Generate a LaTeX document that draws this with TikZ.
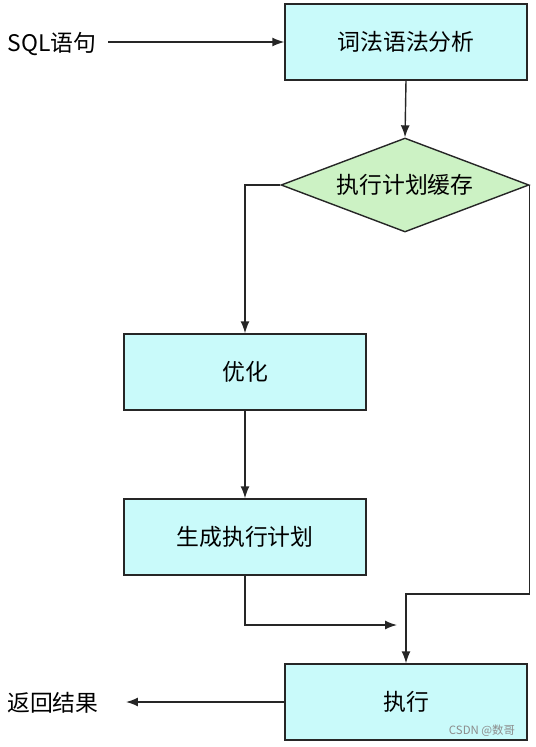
\documentclass[tikz,border=0pt]{standalone}
\usepackage{fontspec}
\setmainfont{Noto Sans CJK SC}
\usetikzlibrary{arrows.meta, positioning, shapes.geometric}
\definecolor{boxcyan}{HTML}{C9FAFA}
\definecolor{cachegreen}{HTML}{CCF2C4}

\begin{document}
\begin{tikzpicture}[
    x=0.02cm, y=-0.02cm,
    stage/.style={rectangle, draw=black!85, line width=0.8pt, fill=boxcyan,
                  minimum width=4.84cm, minimum height=1.52cm,
                  align=center, font=\fontsize{13}{15}\selectfont},
    check/.style={diamond, draw=black!85, line width=0.8pt, fill=cachegreen,
                  shape aspect=2.65, minimum width=4.96cm, minimum height=1.88cm,
                  inner sep=0pt, font=\fontsize{13}{15}\selectfont},
    plain/.style={font=\fontsize{13}{15}\selectfont},
    arrow/.style={-{Latex[length=2.4mm, width=1.8mm]}, line width=0.8pt, black!85}
  ]
    \useasboundingbox (0,0) rectangle (536,747);

    % Boxes
    \node[stage] (lex) at (406,42) {词法语法分析};
    \node[check] (cache) at (405,185) {执行计划缓存};
    \node[stage] (opt) at (245,372) {优化};
    \node[stage] (gen) at (245,537) {生成执行计划};
    \node[stage] (exec) at (406,702) {执行};

    % Input and output
    \node[plain] (sql) at (52,44) {SQL语句};
    \node[plain] (ret) at (53,703) {返回结果};
    \node[font=\fontsize{6.5}{8}\selectfont, text=black!45] (mark) at (482,731) {CSDN @数哥};

    % Bend points
    \coordinate (join) at (397,625);
    \coordinate (drop) at (406,594);

    % Arrows
    \draw[arrow] (108,42) coordinate (sqlout) -- (lex.west);
    \draw[arrow] (lex.south) -- (cache.north);
    \draw[arrow] (cache.west) -| (opt.north);
    \draw[arrow] (opt.south) -- (gen.north);
    \draw[arrow] (gen.south) |- (join);
    \draw[arrow] (cache.east) |- (drop) -- (exec.north);
    \draw[arrow] (exec.west) -- (126,702) coordinate (retin);
\end{tikzpicture}
\end{document}
